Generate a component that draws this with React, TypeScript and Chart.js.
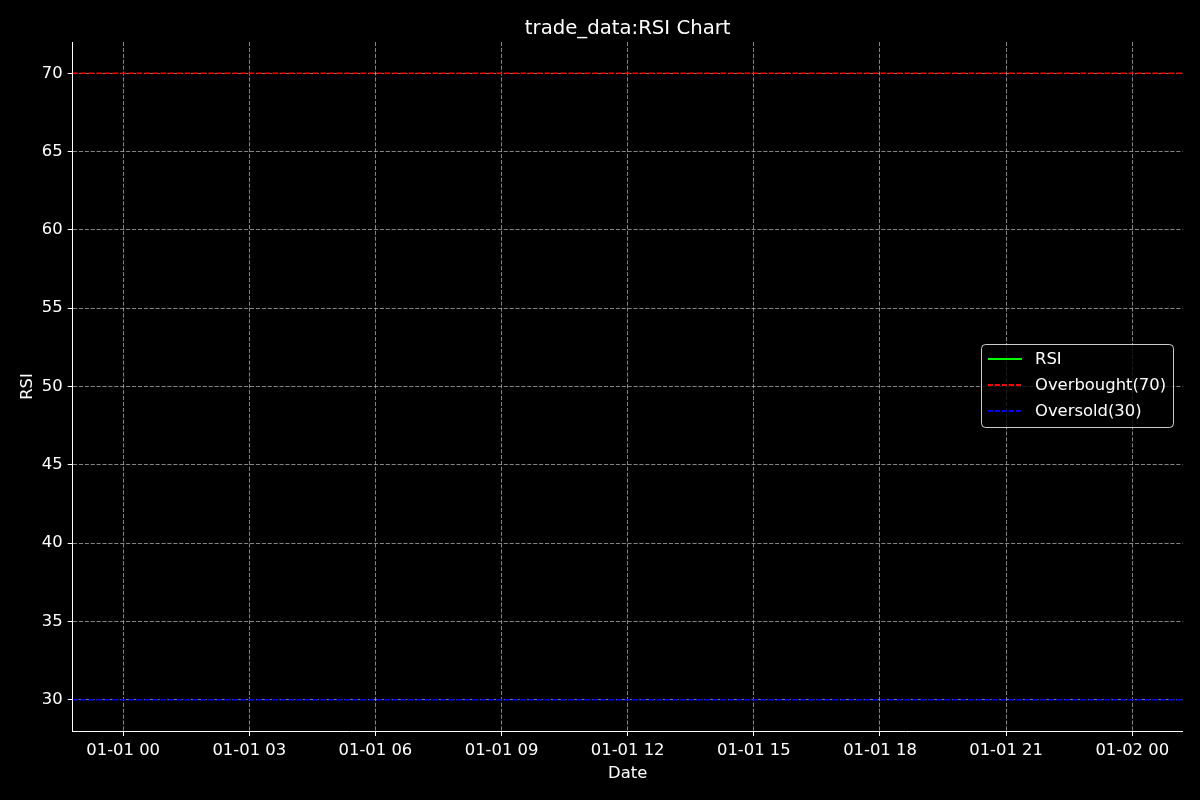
import React, { useEffect, useRef } from "react";
import { Chart, registerables } from "chart.js";

Chart.register(...registerables);

// Hours since 2024-01-01 00:00
const hours = [0, 1, 2, 3, 4, 5, 6, 7, 8, 9, 10, 11, 12, 13, 14, 15, 16, 17, 18, 19, 20, 21, 22, 23, 24];
// RSI is undefined (NaN) for every point in the reference
const rsiValues: (number | null)[] = [
  null, null, null, null, null, null, null, null, null, null, null, null, null,
  null, null, null, null, null, null, null, null, null, null, null, null,
];
// Horizontal reference levels (span the whole axis)
const overboughtLevel = 70;
const oversoldLevel = 30;

// Axis limits (data range padded by 5%)
const xMin = -1.2;
const xMax = 25.2;
const yMin = 28;
const yMax = 72;

const xTickHours = [0, 3, 6, 9, 12, 15, 18, 21, 24];
const xTickLabels = ["01-01 00", "01-01 03", "01-01 06", "01-01 09", "01-01 12", "01-01 15", "01-01 18", "01-01 21", "01-02 00"];
const yTicks = [30, 35, 40, 45, 50, 55, 60, 65, 70];

const seriesLabels = ["RSI", "Overbought(70)", "Oversold(30)"];
const seriesColors = ["#00ff00", "#ff0000", "#0000ff"];

const FONT = "DejaVu Sans";
const FS = 16.4;
const GRID_COLOR = "rgba(176,176,176,0.75)";

const bgPlugin = {
  id: "bg",
  beforeDraw(chart: any) {
    const { ctx, width, height } = chart;
    ctx.save();
    ctx.fillStyle = "#000000";
    ctx.fillRect(0, 0, width, height);
    ctx.restore();
  },
};

const titlePlugin = {
  id: "mplTitle",
  afterDraw(chart: any) {
    const { ctx, chartArea } = chart;
    ctx.save();
    ctx.font = `19.7px "${FONT}"`;
    ctx.fillStyle = "#ffffff";
    ctx.textAlign = "center";
    ctx.textBaseline = "alphabetic";
    ctx.fillText("trade_data:RSI Chart", (chartArea.left + chartArea.right) / 2, 33.5);
    ctx.restore();
  },
};

const legendPlugin = {
  id: "mplLegend",
  afterDraw(chart: any) {
    const { ctx } = chart;
    const x0 = 981.5, y0 = 344.5, w = 192, h = 83, r = 4;
    ctx.save();
    ctx.beginPath();
    ctx.moveTo(x0 + r, y0);
    ctx.lineTo(x0 + w - r, y0);
    ctx.quadraticCurveTo(x0 + w, y0, x0 + w, y0 + r);
    ctx.lineTo(x0 + w, y0 + h - r);
    ctx.quadraticCurveTo(x0 + w, y0 + h, x0 + w - r, y0 + h);
    ctx.lineTo(x0 + r, y0 + h);
    ctx.quadraticCurveTo(x0, y0 + h, x0, y0 + h - r);
    ctx.lineTo(x0, y0 + r);
    ctx.quadraticCurveTo(x0, y0, x0 + r, y0);
    ctx.closePath();
    ctx.fillStyle = "rgba(0,0,0,0.8)";
    ctx.fill();
    ctx.strokeStyle = "rgba(255,255,255,0.8)";
    ctx.lineWidth = 1;
    ctx.stroke();

    chart.data.datasets.forEach((ds: any, i: number) => {
      const cy = 359 + i * 26;
      ctx.beginPath();
      ctx.setLineDash(ds.borderDash ? [5, 2] : []);
      ctx.strokeStyle = ds.borderColor;
      ctx.lineWidth = 2;
      ctx.moveTo(988, cy);
      ctx.lineTo(1022, cy);
      ctx.stroke();
      ctx.setLineDash([]);
      ctx.font = `${FS}px "${FONT}"`;
      ctx.fillStyle = "#ffffff";
      ctx.textAlign = "left";
      ctx.textBaseline = "middle";
      ctx.fillText(ds.label, 1035, cy + 1);
    });
    ctx.restore();
  },
};

export default function App() {
  const ref = useRef<HTMLCanvasElement | null>(null);

  useEffect(() => {
    if (!ref.current) return;
    const chart = new Chart(ref.current, {
      type: "line",
      data: {
        datasets: [
          {
            label: seriesLabels[0],
            data: hours.map((h, i) => ({ x: h, y: rsiValues[i] })) as any,
            borderColor: seriesColors[0],
            borderWidth: 1.5,
            pointRadius: 0,
            spanGaps: false,
          },
          {
            label: seriesLabels[1],
            data: [
              { x: xMin, y: overboughtLevel },
              { x: xMax, y: overboughtLevel },
            ],
            borderColor: seriesColors[1],
            borderWidth: 1.5,
            borderDash: [5.5, 2.5],
            pointRadius: 0,
          },
          {
            label: seriesLabels[2],
            data: [
              { x: xMin, y: oversoldLevel },
              { x: xMax, y: oversoldLevel },
            ],
            borderColor: seriesColors[2],
            borderWidth: 1.5,
            borderDash: [5.5, 2.5],
            pointRadius: 0,
          },
        ],
      },
      options: {
        animation: false,
        responsive: false,
        maintainAspectRatio: false,
        layout: { padding: { top: 42, right: 17.3, left: 0, bottom: 0 } },
        plugins: {
          legend: { display: false },
          title: { display: false },
          tooltip: { enabled: false },
        },
        scales: {
          x: {
            type: "linear",
            min: xMin,
            max: xMax,
            afterBuildTicks: (s: any) => {
              s.ticks = xTickHours.map((v) => ({ value: v }));
            },
            afterFit: (s: any) => {
              s.height = 69;
            },
            ticks: {
              color: "#ffffff",
              font: { family: FONT, size: FS },
              padding: 4.5,
              maxRotation: 0,
              autoSkip: false,
              callback: (v: any) => {
                const idx = xTickHours.indexOf(Number(v));
                return idx >= 0 ? xTickLabels[idx] : "";
              },
            },
            grid: {
              color: GRID_COLOR,
              lineWidth: 1,
              tickColor: "#ffffff",
              tickLength: 5,
              tickWidth: 1,
            },
            border: { display: true, color: "#ffffff", width: 1, dash: [4.1, 1.8] },
            title: {
              display: true,
              text: "Date",
              color: "#ffffff",
              font: { family: FONT, size: FS },
              padding: { top: 0, bottom: 16.8 },
            },
          },
          y: {
            type: "linear",
            min: yMin,
            max: yMax,
            afterBuildTicks: (s: any) => {
              s.ticks = yTicks.map((v) => ({ value: v }));
            },
            afterFit: (s: any) => {
              s.width = 72.7;
            },
            ticks: {
              color: "#ffffff",
              font: { family: FONT, size: FS },
              padding: 5,
              callback: (v: any) => String(v),
            },
            grid: {
              color: GRID_COLOR,
              lineWidth: 1,
              tickColor: "#ffffff",
              tickLength: 5,
              tickWidth: 1,
            },
            border: { display: true, color: "#ffffff", width: 1, dash: [4.1, 1.8] },
            title: {
              display: true,
              text: "RSI",
              color: "#ffffff",
              font: { family: FONT, size: FS },
              padding: { top: 17.8, bottom: 0 },
            },
          },
        },
      },
      plugins: [bgPlugin, titlePlugin, legendPlugin],
    } as any);
    return () => chart.destroy();
  }, []);

  return (
    <div style={{ position: "absolute", left: 0, top: 0, width: 1200, height: 800, background: "#000" }}>
      <canvas ref={ref} width={1200} height={800} style={{ width: 1200, height: 800, display: "block" }} />
    </div>
  );
}
